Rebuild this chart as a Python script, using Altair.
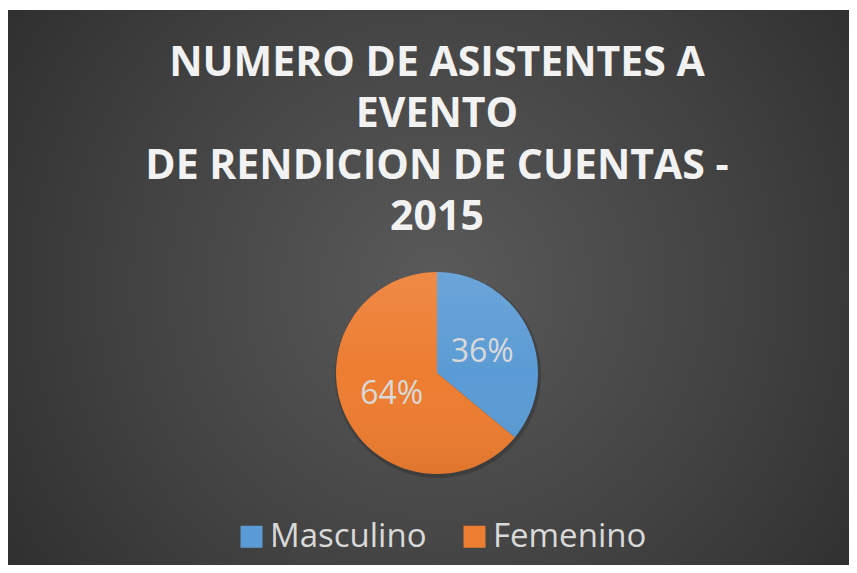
import math
import altair as alt
import pandas as pd

# ---- data ----
categorias = ["Masculino", "Femenino"]
porcentajes = [36, 64]
etiquetas = ["36%", "64%"]
orden = [1, 2]
colores = ["#5b9bd5", "#ed7d31"]
titulo = ["NUMERO DE ASISTENTES A", "EVENTO", "DE RENDICION DE CUENTAS -", "2015"]

df = pd.DataFrame({"categoria": categorias, "valor": porcentajes,
                   "etiqueta": etiquetas, "orden": orden})

W, H = 841, 557
CX, CY, R = 429, 365, 101

one = alt.Data(values=[{}])

fondo = alt.Chart(one).mark_rect(
    fill={"gradient": "radial", "x1": 0.51, "y1": 0.5, "r1": 0,
          "x2": 0.51, "y2": 0.5, "r2": 0.72,
          "stops": [{"offset": 0, "color": "#5a5a5a"},
                    {"offset": 0.5, "color": "#424242"},
                    {"offset": 1, "color": "#272727"}]}
).encode(x=alt.value(0), x2=alt.value(W), y=alt.value(2), y2=alt.value(H))

titulo_mark = alt.Chart(one).mark_text(
    font="Open Sans", fontWeight="bold", fontSize=41, color="#f2f2f2",
    align="center", baseline="alphabetic", lineHeight=51.3
).encode(x=alt.value(CX), y=alt.value(68), text=alt.value(titulo))

sombra_pastel = alt.Chart(one).mark_arc(
    theta=0, theta2=2 * math.pi, outerRadius=R + 2, color="#000000",
    opacity=0.18
).encode(x=alt.value(CX + 1), y=alt.value(CY + 2))

base = alt.Chart(df).encode(
    theta=alt.Theta("valor:Q", stack=True),
    order=alt.Order("orden:Q"),
    x=alt.value(CX), y=alt.value(CY),
)

pastel = base.mark_arc(outerRadius=R).encode(
    color=alt.Color(
        "categoria:N",
        scale=alt.Scale(domain=categorias, range=colores),
        sort=categorias,
        legend=alt.Legend(
            title=None, orient="none", legendX=227, legendY=512,
            direction="horizontal", columns=2,
            symbolType="square", symbolSize=484, symbolStrokeWidth=0,
            labelFont="Open Sans", labelFontSize=33, labelColor="#d9d9d9",
            labelOffset=2, columnPadding=31, labelLimit=300,
        ),
    )
)

brillo = alt.Chart(one).mark_arc(
    theta=0, theta2=2 * math.pi, outerRadius=R,
    fill={"gradient": "linear", "x1": 0, "y1": 0, "x2": 0, "y2": 1,
          "stops": [{"offset": 0, "color": "rgba(255,255,255,0.10)"},
                    {"offset": 0.5, "color": "rgba(255,255,255,0)"},
                    {"offset": 1, "color": "rgba(0,0,0,0.06)"}]}
).encode(x=alt.value(CX), y=alt.value(CY))

textos = base.mark_text(
    radius=50, font="Open Sans", fontSize=32, color="#d9d9d9",
    align="center", baseline="middle"
).encode(text="etiqueta:N")

chart = alt.layer(fondo, titulo_mark, sombra_pastel, pastel,
                  brillo, textos).properties(
    width=W, height=H, background="white", padding=0,
    autosize=alt.AutoSizeParams(type="none"),
).configure_view(stroke=None)

chart.save("out.html", embed_options={"renderer": "svg", "actions": False})
